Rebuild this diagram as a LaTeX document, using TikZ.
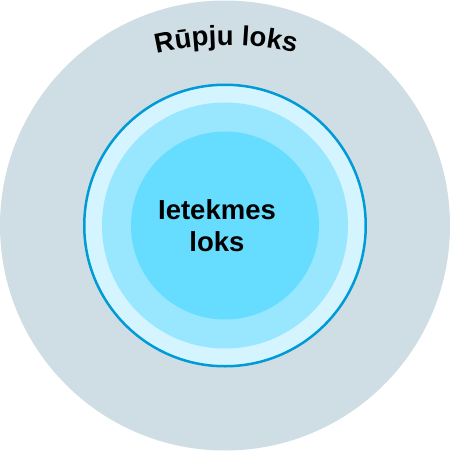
\documentclass[tikz,border=0pt]{standalone}
\usepackage{fontspec}
\setmainfont{Liberation Sans}
\usepackage{tikz}
\usetikzlibrary{decorations.text}
\definecolor{rGray}{RGB}{207,222,229}
\definecolor{rPale}{RGB}{212,245,255}
\definecolor{rMid}{RGB}{153,230,255}
\definecolor{rDeep}{RGB}{102,221,255}
\definecolor{rEdge}{RGB}{0,155,215}

\begin{document}
\begin{tikzpicture}[
  x=1pt, y=1pt,
  disc/.style={circle, draw=none, inner sep=0pt, outer sep=0pt},
  label/.style={font=\fontsize{27.5}{32}\selectfont\bfseries, align=center},
]
  \useasboundingbox (-225,-225.5) rectangle (225,225.5);

  \node[disc, fill=rGray, minimum size=450pt] (concern) at (0,0) {};
  \node[disc, fill=rPale, draw=rEdge, line width=2.5pt, minimum size=281.5pt] (influence) at (0,0) {};
  \node[disc, fill=rMid, minimum size=246pt] (midring) at (0,0) {};
  \node[disc, fill=rDeep, minimum size=188pt] (core) at (0,0) {};

  \node[label] (corelabel) at (-8,0) {Ietekmes\\loks};

  % curved heading on the outer ring
  \path[decorate, decoration={text along path, text align=center,
      text={|\fontsize{27.5}{32}\selectfont\bfseries|Rūpju loks}}]
    (1,-119.5) ++(112:300) arc[start angle=112, end angle=68, radius=300];
\end{tikzpicture}
\end{document}
